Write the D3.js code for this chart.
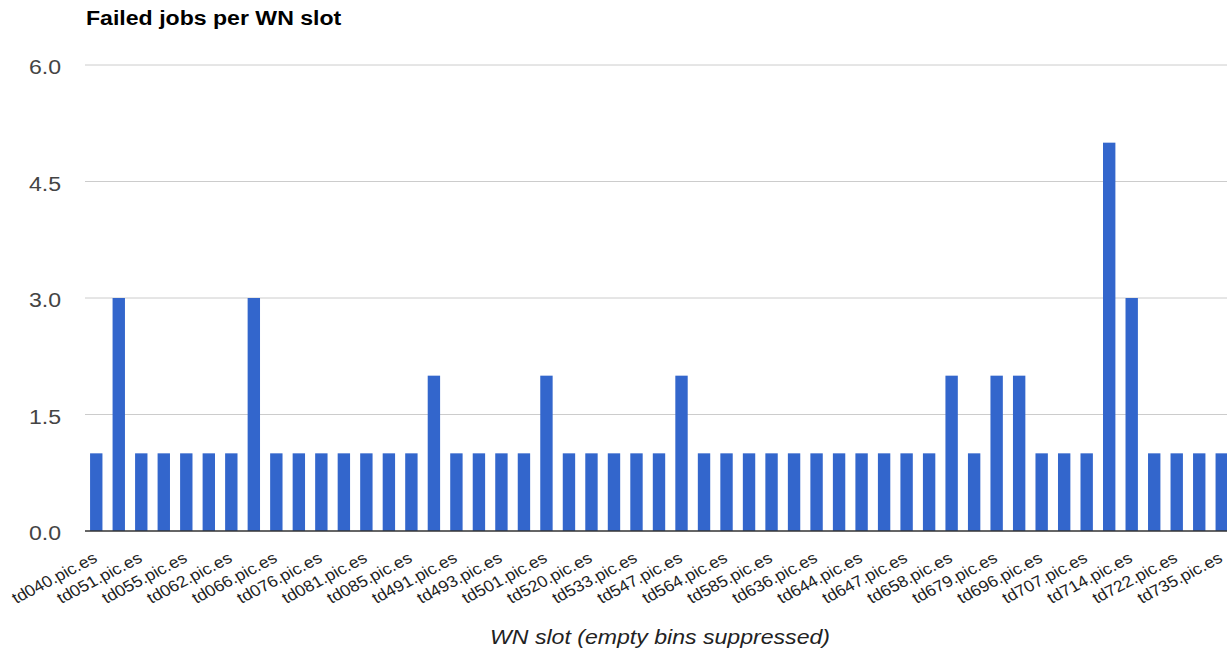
<!DOCTYPE html>
<html>
<head>
<meta charset="utf-8">
<script src="https://cdn.jsdelivr.net/npm/d3@7/dist/d3.min.js"></script>
<style>
  html, body { margin: 0; padding: 0; background: #fff; overflow: hidden; }
  svg { display: block; font-family: "Liberation Sans", Arial, sans-serif; }
</style>
</head>
<body>
<svg id="chart" width="1227" height="653"></svg>
<script>
// Categories (every bar); only every other label is shown on the axis, as in the reference.
const categories = [
  "td040.pic.es","td045.pic.es","td051.pic.es","td053.pic.es","td055.pic.es","td058.pic.es",
  "td062.pic.es","td064.pic.es","td066.pic.es","td070.pic.es","td076.pic.es","td078.pic.es",
  "td081.pic.es","td083.pic.es","td085.pic.es","td489.pic.es","td491.pic.es","td492.pic.es",
  "td493.pic.es","td497.pic.es","td501.pic.es","td512.pic.es","td520.pic.es","td527.pic.es",
  "td533.pic.es","td540.pic.es","td547.pic.es","td556.pic.es","td564.pic.es","td575.pic.es",
  "td585.pic.es","td610.pic.es","td636.pic.es","td640.pic.es","td644.pic.es","td645.pic.es",
  "td647.pic.es","td652.pic.es","td658.pic.es","td668.pic.es","td679.pic.es","td688.pic.es",
  "td696.pic.es","td701.pic.es","td707.pic.es","td710.pic.es","td714.pic.es","td718.pic.es",
  "td722.pic.es","td728.pic.es","td735.pic.es"
];
const failedJobs = [
  1,3,1,1,1,1,1,3,1,1,
  1,1,1,1,1,2,1,1,1,1,
  2,1,1,1,1,1,2,1,1,1,
  1,1,1,1,1,1,1,1,2,1,
  2,2,1,1,1,5,3,1,1,1,
  1
];
const yTicks = [0, 1.5, 3.0, 4.5, 6.0];
const titleText = "Failed jobs per WN slot";
const xAxisTitle = "WN slot (empty bins suppressed)";

const svg = d3.select("#chart");
const SX = 1.1; // horizontal text stretch seen in the reference

const x = d3.scaleBand()
  .domain(categories)
  .range([85, 1233])
  .paddingInner(0.45)
  .paddingOuter(0.225);

const y = d3.scaleLinear().domain([0, 6]).range([531, 65]);

// gridlines
svg.append("g").selectAll("line")
  .data(yTicks.filter(d => d !== 0))
  .join("line")
  .attr("x1", 85).attr("x2", 1227)
  .attr("y1", d => y(d)).attr("y2", d => y(d))
  .attr("stroke", "#cccccc").attr("stroke-width", 1);

// y labels
svg.append("g").selectAll("text")
  .data(yTicks)
  .join("text")
  .attr("transform", d => `translate(61,${y(d) + 9}) scale(${SX},1)`)
  .attr("text-anchor", "end")
  .attr("font-size", 21)
  .attr("fill", "#444")
  .text(d => d.toFixed(1));

// bars
svg.append("g").selectAll("rect")
  .data(categories)
  .join("rect")
  .attr("x", d => x(d))
  .attr("width", x.bandwidth())
  .attr("y", (d, i) => y(failedJobs[i]))
  .attr("height", (d, i) => y(0) - y(failedJobs[i]))
  .attr("fill", "#3366cc");

// baseline
svg.append("line")
  .attr("x1", 85).attr("x2", 1227)
  .attr("y1", y(0)).attr("y2", y(0))
  .attr("stroke", "#333").attr("stroke-width", 1.5);

// x labels (every other)
svg.append("g").selectAll("text")
  .data(categories.filter((d, i) => i % 2 === 0))
  .join("text")
  .attr("transform", d => `translate(${x(d) + x.bandwidth() / 2 + 2},561) scale(${SX},1) rotate(-30)`)
  .attr("text-anchor", "end")
  .attr("font-size", 16)
  .attr("fill", "#222")
  .text(d => d);

// title
svg.append("text")
  .attr("transform", `translate(86,25) scale(${SX},1)`)
  .attr("font-size", 21)
  .attr("font-weight", "bold")
  .attr("fill", "#000")
  .text(titleText);

// x-axis title
svg.append("text")
  .attr("transform", `translate(660,644) scale(${SX},1)`)
  .attr("text-anchor", "middle")
  .attr("font-size", 21)
  .attr("font-style", "italic")
  .attr("fill", "#222")
  .text(xAxisTitle);
</script>
</body>
</html>
